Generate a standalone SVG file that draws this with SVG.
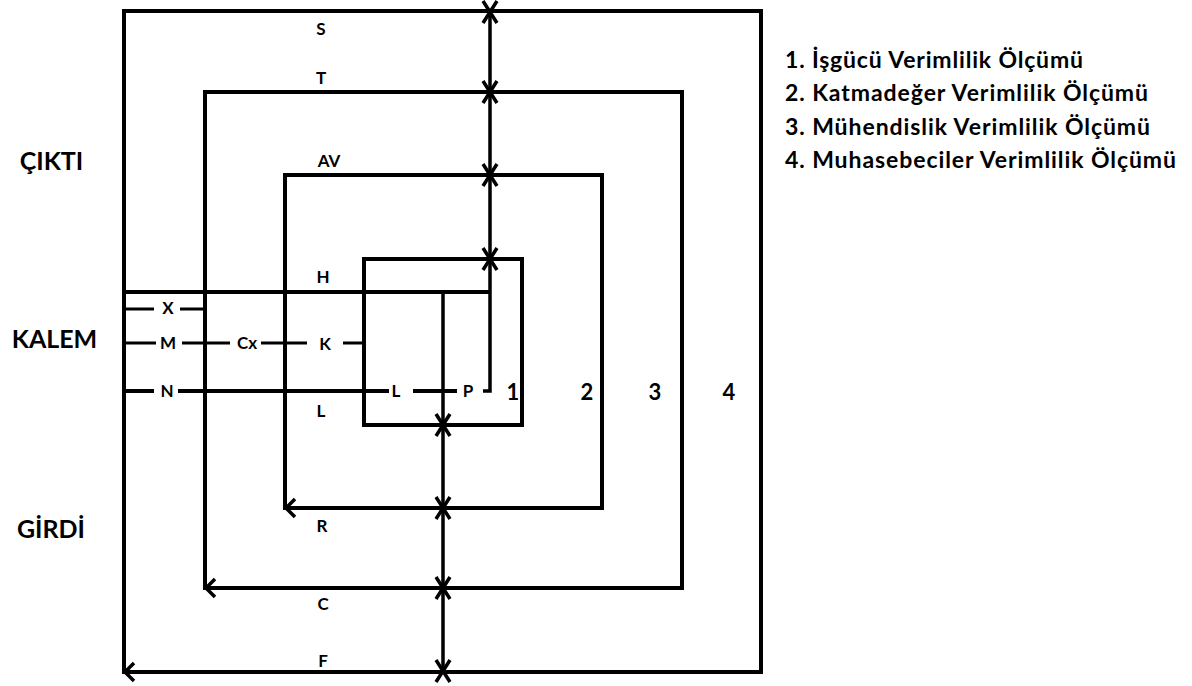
<svg xmlns="http://www.w3.org/2000/svg" width="1192" height="686" viewBox="0 0 1192 686">
<style>
.box{fill:none;stroke:#000;stroke-width:4}
.ln{fill:none;stroke:#000;stroke-width:3.5}
.thin{fill:none;stroke:#000;stroke-width:3}
.xm{fill:none;stroke:#000;stroke-width:3.5;stroke-linecap:butt}
.lb{font-family:Lato,"Open Sans","Liberation Sans",sans-serif;font-weight:bold;fill:#000}
.s{font-size:17px}
.n{font-size:22px}
.big{font-size:25px}
.lst{font-size:23px}
</style>
<defs>
<path id="xmark" class="xm" d="M-7,-11 L7,11 M7,-11 L-7,11"/>
<path id="chev" class="ln" d="M9,-9 L0,0 L9,9"/>
</defs>
<rect width="1192" height="686" fill="#fff"/>
<g id="box4"><rect class="box" x="124" y="11" width="637" height="661"/><use href="#chev" x="125" y="672"/></g>
<g id="box3"><rect class="box" x="205" y="92" width="477" height="496"/><use href="#chev" x="206" y="588"/></g>
<g id="box2"><rect class="box" x="285" y="175" width="317" height="333"/><use href="#chev" x="286" y="508"/></g>
<g id="box1"><rect class="box" x="364" y="259" width="158" height="166"/></g>
<g id="connectors">
<path class="ln" d="M490,11 V391 H483"/>
<path class="box" d="M124,292 H491"/>
<path class="ln" d="M443,292 V672"/>
<path class="thin" d="M124,309 H154 M180,309 H205"/>
<path class="thin" d="M124,343 H156 M182,343 H230 M261,343 H307 M343,343 H364"/>
<path class="box" d="M124,391 H154 M178,391 H389 M413,391 H457"/>
<use href="#xmark" x="490" y="12"/>
<use href="#xmark" x="490" y="92"/>
<use href="#xmark" x="490" y="175"/>
<use href="#xmark" x="490" y="259"/>
<use href="#xmark" x="443" y="425"/>
<use href="#xmark" x="443" y="508"/>
<use href="#xmark" x="443" y="588"/>
<use href="#xmark" x="443" y="671"/>
</g>
<g id="labels" class="lb" text-anchor="middle">
<text class="s" x="321" y="35">S</text>
<text class="s" x="321" y="84">T</text>
<text class="s" x="329" y="167">AV</text>
<text class="s" x="323" y="283">H</text>
<text class="s" x="168" y="314">X</text>
<text class="s" x="168" y="349">M</text>
<text class="s" x="247" y="349">Cx</text>
<text class="s" x="325" y="350">K</text>
<text class="s" x="167" y="397">N</text>
<text class="s" x="396" y="397">L</text>
<text class="s" x="468" y="397">P</text>
<text class="s" x="321" y="417">L</text>
<text class="s" x="322" y="532">R</text>
<text class="s" x="323" y="610">C</text>
<text class="s" x="323" y="667">F</text>
<text class="n" x="513" y="400">1</text>
<text class="n" x="587" y="400">2</text>
<text class="n" x="655" y="400">3</text>
<text class="n" x="729" y="400">4</text>
<text class="big" x="51.5" y="170">ÇIKTI</text>
<text class="big" x="54.5" y="348">KALEM</text>
<text class="big" x="51" y="538">GİRDİ</text>
</g>
<g id="legend" class="lb lst">
<text x="785" y="68" textLength="298">1. İşgücü Verimlilik Ölçümü</text>
<text x="785" y="101" textLength="363">2. Katmadeğer Verimlilik Ölçümü</text>
<text x="785" y="134.5" textLength="365">3. Mühendislik Verimlilik Ölçümü</text>
<text x="785" y="168" textLength="391">4. Muhasebeciler Verimlilik Ölçümü</text>
</g>
</svg>
